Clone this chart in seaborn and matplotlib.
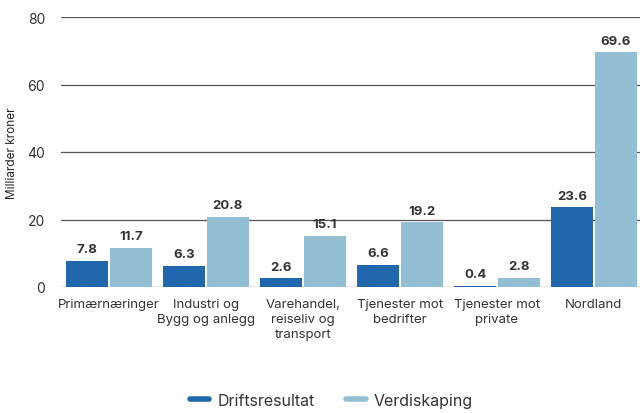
import matplotlib
matplotlib.use("Agg")
import matplotlib.pyplot as plt
import seaborn as sns
import pandas as pd
from matplotlib.lines import Line2D

categories = ["Primærnæringer", "Industri og\nBygg og anlegg", "Varehandel,\nreiseliv og\ntransport",
              "Tjenester mot\nbedrifter", "Tjenester mot\nprivate", "Nordland"]
driftsresultat = [7.8, 6.3, 2.6, 6.6, 0.4, 23.6]
verdiskaping = [11.7, 20.8, 15.1, 19.2, 2.8, 69.6]
series = ["Driftsresultat", "Verdiskaping"]
colors = ["#2167ae", "#93bfd5"]
yticks = [0, 20, 40, 60, 80]

df = pd.DataFrame({
    "cat": categories * 2,
    "serie": [series[0]] * len(categories) + [series[1]] * len(categories),
    "val": driftsresultat + verdiskaping,
})

sns.set_theme(style="white")
plt.rcParams["font.family"] = ["Inter", "DejaVu Sans"]

fig = plt.figure(figsize=(6.4, 4.14), dpi=100)
ax = fig.add_axes([60.5 / 640, 126 / 414, 582 / 640, 270 / 414])

sns.barplot(data=df, x="cat", y="val", hue="serie", palette=colors, order=categories,
            hue_order=series, width=0.9, ax=ax, legend=False, linewidth=0,
            saturation=1)

ax.set_ylim(0, 80)
ax.set_xlim(-0.5, 5.5)
ax.set_yticks(yticks)
ax.yaxis.grid(True, color="#555555", linewidth=0.9)
ax.set_axisbelow(True)
for s in ax.spines.values():
    s.set_visible(False)
ax.tick_params(axis="y", length=0, pad=11, labelsize=10, labelcolor="#333333")
ax.tick_params(axis="x", length=0, pad=8, labelsize=9.5, labelcolor="#333333")
ax.set_xlabel("")
ax.set_ylabel("Milliarder kroner", fontsize=8.5, color="#222222", labelpad=7)
for lbl in ax.get_xticklabels():
    lbl.set_linespacing(1.3)

# small gap between the paired bars
for cont in ax.containers:
    for bar in cont:
        w = bar.get_width()
        bar.set_width(w * 0.96)
        bar.set_x(bar.get_x() + w * 0.02)
    ax.bar_label(cont, fmt="%.1f", padding=4, fontsize=9.5, fontweight="bold", color="#333333")

handles = [Line2D([0], [0], color=c, lw=4) for c in colors]
fig.legend(handles, series, loc="lower center", bbox_to_anchor=(0.518, -0.022), ncol=2,
           frameon=False, fontsize=11.5, handlelength=1.2, columnspacing=2.0,
           labelcolor="#333333", handletextpad=0.5)

fig.savefig("out.png", dpi=100)
